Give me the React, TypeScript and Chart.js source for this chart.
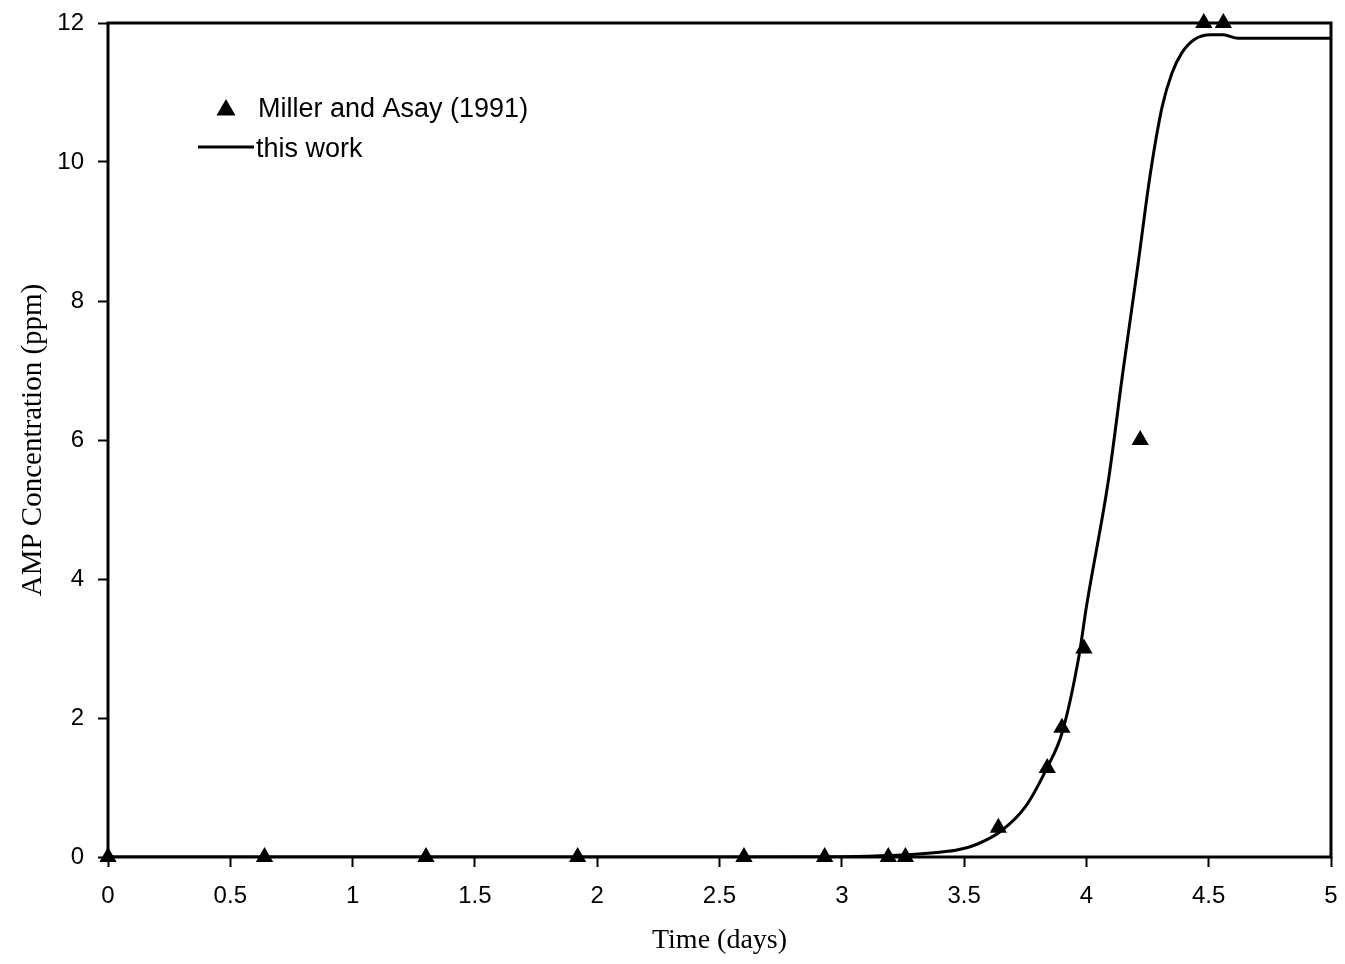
import React, { useEffect, useRef } from "react";
import { Chart, registerables } from "chart.js";

Chart.register(...registerables);

const xTicks = [0, 0.5, 1, 1.5, 2, 2.5, 3, 3.5, 4, 4.5, 5];
const yTicks = [0, 2, 4, 6, 8, 10, 12];

const millerX = [0, 0.64, 1.3, 1.92, 2.6, 2.93, 3.19, 3.26, 3.64, 3.84, 3.9, 3.99, 4.22, 4.48, 4.56];
const millerY = [0, 0, 0, 0, 0, 0, 0, 0, 0.42, 1.28, 1.86, 3.0, 6.0, 12, 12];

const modelX = [0, 1, 2, 2.5, 3, 3.2, 3.3, 3.4, 3.47, 3.55, 3.65, 3.75, 3.84, 3.9, 3.97, 4.0, 4.09, 4.15, 4.21, 4.26, 4.31, 4.35, 4.39, 4.44, 4.51, 4.56, 4.62, 4.7, 5.0];
const modelY = [0, 0, 0, 0, 0.005, 0.02, 0.04, 0.07, 0.1, 0.18, 0.37, 0.72, 1.29, 1.78, 2.9, 3.6, 5.42, 7.0, 8.5, 9.8, 10.8, 11.28, 11.57, 11.76, 11.83, 11.83, 11.78, 11.78, 11.78];

const seriesLabels = ["Miller and Asay (1991)", "this work"];
const xTitle = "Time (days)";
const yTitle = "AMP Concentration (ppm)";

const SANS = "'Liberation Sans', Arial, sans-serif";
const SERIF = "'Liberation Serif', 'Times New Roman', serif";

const framePlugin = {
  id: "frame",
  afterDatasetsDraw(chart: any) {
    const { ctx, chartArea } = chart;
    ctx.save();
    ctx.strokeStyle = "#000";
    ctx.lineWidth = 3;
    ctx.strokeRect(chartArea.left, chartArea.top, chartArea.right - chartArea.left, chartArea.bottom - chartArea.top);
    ctx.restore();
  },
};

const legendPlugin = {
  id: "customLegend",
  afterDraw(chart: any) {
    const { ctx } = chart;
    ctx.save();
    ctx.fillStyle = "#000";
    const cx = 226, cy = 110, r = 11;
    ctx.beginPath();
    ctx.moveTo(cx, cy - r);
    ctx.lineTo(cx + r * Math.sin((2 * Math.PI) / 3), cy - r * Math.cos((2 * Math.PI) / 3));
    ctx.lineTo(cx + r * Math.sin((4 * Math.PI) / 3), cy - r * Math.cos((4 * Math.PI) / 3));
    ctx.closePath();
    ctx.fill();
    ctx.strokeStyle = "#000";
    ctx.lineWidth = 3;
    ctx.beginPath();
    ctx.moveTo(198, 147);
    ctx.lineTo(254, 147);
    ctx.stroke();
    ctx.font = `27px ${SANS}`;
    ctx.textBaseline = "alphabetic";
    ctx.textAlign = "left";
    ctx.fillText(seriesLabels[0], 258, 117);
    ctx.fillText(seriesLabels[1], 256, 157);
    ctx.restore();
  },
};

export default function App() {
  const ref = useRef<HTMLCanvasElement | null>(null);

  useEffect(() => {
    if (!ref.current) return;
    const chart = new Chart(ref.current, {
      type: "scatter",
      data: {
        datasets: [
          {
            label: seriesLabels[0],
            data: millerX.map((x, i) => ({ x, y: millerY[i] })),
            pointStyle: "triangle",
            pointRadius: 10,
            backgroundColor: "#000",
            borderColor: "#000",
            borderWidth: 0,
            showLine: false,
            clip: false as any,
          },
          {
            label: seriesLabels[1],
            data: modelX.map((x, i) => ({ x, y: modelY[i] })),
            showLine: true,
            pointRadius: 0,
            borderColor: "#000",
            borderWidth: 3,
            cubicInterpolationMode: "monotone",
            fill: false,
          },
        ],
      },
      options: {
        animation: false,
        responsive: true,
        maintainAspectRatio: false,
        layout: { padding: { top: 23, right: 14, left: 0, bottom: 0 } },
        plugins: {
          legend: { display: false },
          tooltip: { enabled: false },
        },
        scales: {
          x: {
            type: "linear",
            min: 0,
            max: 5,
            afterBuildTicks: (scale: any) => {
              scale.ticks = xTicks.map((v) => ({ value: v }));
            },
            afterFit: (scale: any) => {
              scale.height = 107;
              scale.paddingLeft = 0;
              scale.paddingRight = 0;
            },
            ticks: {
              color: "#000",
              font: { family: SANS, size: 24 },
              padding: 15,
              maxRotation: 0,
              autoSkip: false,
              callback: (v: any) => String(v),
            },
            grid: {
              display: true,
              drawOnChartArea: false,
              drawTicks: true,
              tickLength: 10,
              tickWidth: 2,
              tickColor: "#000",
            },
            border: { display: false },
            title: {
              display: true,
              text: xTitle,
              color: "#000",
              font: { family: SERIF, size: 28 },
              padding: { top: 0, bottom: 7 },
            },
          },
          y: {
            type: "linear",
            min: 0,
            max: 12,
            afterBuildTicks: (scale: any) => {
              scale.ticks = yTicks.map((v) => ({ value: v }));
            },
            afterFit: (scale: any) => {
              scale.width = 108;
              scale.paddingTop = 0;
              scale.paddingBottom = 0;
            },
            ticks: {
              color: "#000",
              font: { family: SANS, size: 24 },
              padding: 14,
              autoSkip: false,
              callback: (v: any) => String(v),
            },
            grid: {
              display: true,
              drawOnChartArea: false,
              drawTicks: true,
              tickLength: 10,
              tickWidth: 2,
              tickColor: "#000",
            },
            border: { display: false },
            title: {
              display: true,
              text: yTitle,
              color: "#000",
              font: { family: SERIF, size: 29 },
              padding: { top: 16, bottom: 0 },
            },
          },
        },
      },
      plugins: [framePlugin, legendPlugin],
    } as any);
    return () => chart.destroy();
  }, []);

  return (
    <div style={{ position: "absolute", left: 0, top: 0, width: 1345, height: 964, background: "#fff" }}>
      <canvas ref={ref} />
    </div>
  );
}
